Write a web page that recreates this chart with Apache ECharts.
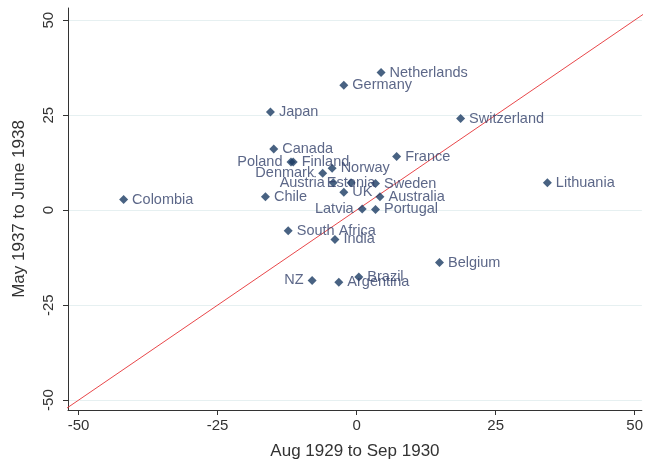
<!DOCTYPE html>
<html>
<head>
<meta charset="utf-8">
<script src="https://cdn.jsdelivr.net/npm/echarts@6/dist/echarts.min.js"></script>
<style>html,body{margin:0;padding:0;background:#fff;}#c{width:646px;height:470px;}</style>
</head>
<body>
<div id="c"></div>
<script>
// ---- data ----
const countries = ['Netherlands','Germany','Japan','Switzerland','Canada','Poland','Finland','France','Norway','Denmark','Estonia','Austria','Sweden','UK','Australia','Lithuania','Colombia','Chile','Latvia','Portugal','South Africa','India','Belgium','NZ','Brazil','Argentina'];
const xValues = [4.4,-2.3,-15.5,18.7,-14.9,-11.8,-11.4,7.2,-4.4,-6.1,-1.0,-4.2,3.4,-2.3,4.2,34.3,-41.9,-16.4,1.0,3.4,-12.3,-3.9,14.9,-8.0,0.4,-3.2];
const yValues = [36.2,32.9,25.8,24.1,16.1,12.7,12.7,14.1,11.0,9.7,7.2,7.2,7.0,4.7,3.5,7.2,2.8,3.5,0.3,0.2,-5.4,-7.7,-13.8,-18.5,-17.6,-19.0];
const tickValues = [-50,-25,0,25,50];
const diagonal = [-60, 60];
const xTitle = 'Aug 1929 to Sep 1930';
const yTitle = 'May 1937 to June 1938';

// ---- label placement (style) ----
const leftLabeled = ['Poland','Denmark','Austria','NZ','Latvia'];
const centerLabeled = ['Estonia'];

const points = countries.map((name, i) => {
  const item = { name: name, value: [xValues[i], yValues[i]] };
  if (leftLabeled.includes(name)) item.label = { position: 'left' };
  if (centerLabeled.includes(name)) item.label = { position: 'inside', offset: [0, -3] };
  return item;
});

const chart = echarts.init(document.getElementById('c'), null, { renderer: 'canvas' });
const font = 'Liberation Sans, Arial, sans-serif';
chart.setOption({
  animation: false,
  backgroundColor: '#fff',
  grid: { left: 68, right: 0, top: 8, bottom: 60, containLabel: false },
  xAxis: {
    type: 'value', min: -51.9, max: 51.3,
    name: xTitle, nameLocation: 'middle', nameGap: 33,
    nameTextStyle: { fontFamily: font, fontSize: 17, color: '#333' },
    axisLine: { show: true, onZero: false, lineStyle: { color: '#333', width: 1 } },
    axisTick: { show: true, customValues: tickValues, length: 5, lineStyle: { color: '#333' } },
    axisLabel: { customValues: tickValues, fontFamily: font, fontSize: 15, color: '#333', margin: 8 },
    splitLine: { show: false }
  },
  yAxis: {
    type: 'value', min: -52.6, max: 53.2,
    name: yTitle, nameLocation: 'middle', nameGap: 40, nameRotate: 90,
    nameTextStyle: { fontFamily: font, fontSize: 17, color: '#333' },
    axisLine: { show: true, onZero: false, lineStyle: { color: '#333', width: 1 } },
    axisTick: { show: true, customValues: tickValues, length: 5, lineStyle: { color: '#333' } },
    axisLabel: { customValues: tickValues, rotate: 90, fontFamily: font, fontSize: 15, color: '#333', margin: 12 },
    splitLine: { show: true, lineStyle: { color: '#e6f0f1', width: 1 } }
  },
  series: [
    {
      type: 'line',
      data: diagonal.map(v => [v, v]),
      symbol: 'none',
      clip: true,
      lineStyle: { color: '#e8474a', width: 1 },
      z: 1,
      silent: true
    },
    {
      type: 'scatter',
      data: points,
      symbol: 'diamond',
      symbolSize: 9,
      itemStyle: { color: '#1a3b63' },
      label: {
        show: true,
        formatter: p => p.name,
        position: 'right',
        distance: 4,
        fontFamily: font,
        fontSize: 14.5,
        color: '#33416a'
      },
      labelLayout: { hideOverlap: false },
      z: 3
    }
  ]
});
</script>
</body>
</html>
